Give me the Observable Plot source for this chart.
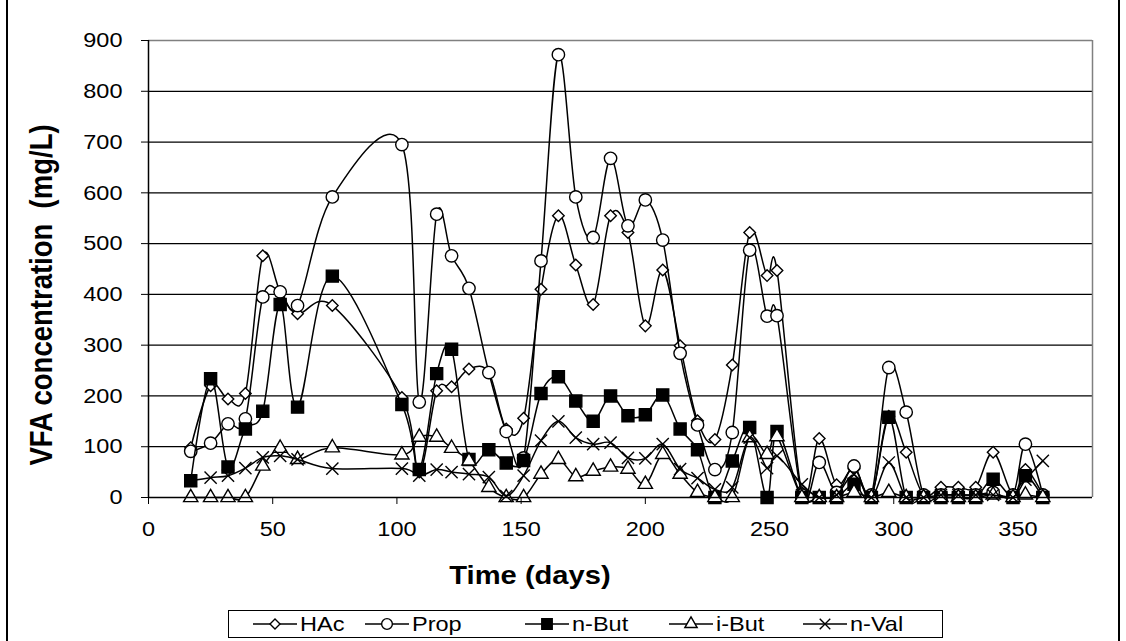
<!DOCTYPE html>
<html>
<head>
<meta charset="utf-8">
<script src="https://cdn.jsdelivr.net/npm/d3@7"></script>
<script src="https://cdn.jsdelivr.net/npm/@observablehq/plot@0.6"></script>
<style>
  html, body { margin: 0; padding: 0; background: #fff; }
  body { width: 1126px; height: 641px; position: relative; overflow: hidden; font-family: "Liberation Sans", Arial, sans-serif; }
  #frame { position: absolute; left: 6px; top: -4px; width: 1114px; height: 660px; border: 2px solid #000; box-sizing: border-box; pointer-events: none; }
  #chart { position: absolute; left: 0; top: 0; }
  #ytitle { position: absolute; left: 42px; top: 295px; white-space: pre; font-weight: bold; font-size: 27.5px; color: #000;
            transform: translate(-50%, -50%) rotate(-90deg) scale(1, 1.12); }
  #xtitle { position: absolute; left: 530px; top: 575px; white-space: pre; font-weight: bold; font-size: 26px; color: #000;
            transform: translate(-50%, -50%) scale(1.12, 1); }
  #legend { position: absolute; left: 228px; top: 610px; width: 715px; height: 28px; border: 1.5px solid #000; box-sizing: border-box; background: #fff; }
  .item { position: absolute; top: 0; height: 100%; display: flex; align-items: center; }
  .item span { font-size: 21px; display: inline-block; transform: scale(1.12, 1); transform-origin: left center; margin-left: 3px; }
</style>
</head>
<body>
<div id="chart"></div>
<div id="ytitle">VFA concentration  (mg/L)</div>
<div id="xtitle">Time (days)</div>
<div id="legend"></div>
<div id="frame"></div>
<script>
// ---- data ----
const days = [17, 25, 32, 39, 46, 53, 60, 74, 102, 109, 116, 122, 129, 137, 144, 151, 158, 165, 172, 179, 186, 193, 200, 207, 214, 221, 228, 235, 242, 249, 253, 263, 270, 277, 284, 291, 298, 305, 312, 319, 326, 333, 340, 348, 353, 360];
const hac  = [98, 220, 194, 205, 476, 405, 362, 378, 197, 50, 210, 218, 253, 246, 135, 156, 410, 555, 458, 380, 555, 522, 338, 448, 299, 151, 114, 261, 522, 437, 447, 10, 116, 25, 58, 5, 160, 89, 5, 20, 20, 20, 89, 5, 55, 5];
const prop = [91, 107, 145, 155, 395, 405, 378, 592, 695, 188, 558, 476, 412, 246, 130, 78, 466, 872, 592, 512, 668, 535, 586, 507, 284, 143, 55, 128, 487, 357, 358, 5, 69, 10, 62, 5, 256, 168, 5, 5, 5, 5, 10, 5, 105, 5];
const nbut = [33, 234, 60, 135, 170, 380, 178, 436, 183, 55, 244, 292, 75, 94, 68, 73, 205, 238, 190, 150, 200, 161, 163, 202, 135, 94, 0, 72, 138, 0, 130, 0, 0, 0, 26, 0, 158, 0, 0, 0, 0, 0, 36, 0, 43, 0];
const ibut = [0, 0, 0, 0, 62, 97, 75, 98, 84, 119, 119, 97, 72, 20, 0, 0, 46, 75, 41, 52, 60, 56, 26, 85, 46, 10, 0, 0, 118, 85, 120, 0, 0, 0, 10, 0, 10, 0, 0, 0, 0, 0, 5, 0, 5, 0];
const nval = [33, 39, 43, 58, 79, 82, 75, 57, 57, 43, 55, 50, 46, 40, 3, 43, 112, 150, 118, 105, 108, 78, 77, 105, 56, 38, 16, 20, 118, 58, 82, 26, 0, 5, 45, 0, 69, 0, 0, 5, 5, 5, 5, 0, 35, 72];
const seriesNames = ["HAc", "Prop", "n-But", "i-But", "n-Val"];
const xTicks = [0, 50, 100, 150, 200, 250, 300, 350];
const yTicks = [0, 100, 200, 300, 400, 500, 600, 700, 800, 900];

const seriesValues = [hac, prop, nbut, ibut, nval];
const symbolStyle = {
  "HAc":   {symbol: "diamond2", r: 5.2, fill: "white"},
  "Prop":  {symbol: "circle",   r: 6.2, fill: "white"},
  "n-But": {symbol: "square",   r: 6.8, fill: "black"},
  "i-But": {symbol: "triangle2",r: 6.8, fill: "white"},
  "n-Val": {symbol: "times",    r: 5.6, fill: "none"}
};
const d3Symbols = {diamond2: d3.symbolDiamond2, circle: d3.symbolCircle, square: d3.symbolSquare, triangle2: d3.symbolTriangle2, times: d3.symbolTimes};

const tables = seriesNames.map((name, k) => days.map((d, i) => ({day: d, value: seriesValues[k][i], series: name})));

const smooth = d3.curveCardinal.tension(0);
const marks = [
  Plot.ruleY(yTicks.filter(v => v > 0 && v < 900), {stroke: "#000", strokeWidth: 1.3}),
  Plot.ruleY([900], {stroke: "#808080", strokeWidth: 1.5}),
  Plot.ruleX([380], {stroke: "#808080", strokeWidth: 1.5})
];
seriesNames.forEach((name, k) => {
  const s = symbolStyle[name];
  marks.push(Plot.line(tables[k], {x: "day", y: "value", curve: smooth, stroke: "#000", strokeWidth: 1.5}));
  marks.push(Plot.dot(tables[k], {x: "day", y: "value", symbol: s.symbol, r: s.r, fill: s.fill, stroke: "#000", strokeWidth: 1.4}));
});
marks.push(
  Plot.ruleX([0], {stroke: "#000", strokeWidth: 1.5}),
  Plot.ruleY([0], {stroke: "#000", strokeWidth: 1.5}),
  Plot.axisX({ticks: xTicks, tickSize: 7, tickPadding: 17, fontSize: 21, label: null, stroke: "#000"}),
  Plot.axisY({ticks: yTicks, tickSize: 7, tickPadding: 19, fontSize: 21, label: null, stroke: "#000"})
);

const plot = Plot.plot({
  width: 1126,
  height: 600,
  marginLeft: 148,
  marginRight: 34,
  marginTop: 40,
  marginBottom: 103,
  x: {domain: [0, 380]},
  y: {domain: [0, 900]},
  style: {fontFamily: "'Liberation Sans', Arial, sans-serif", fontSize: "21px", color: "#000", background: "transparent"},
  marks
});
// widen tick labels slightly, as in the reference
plot.querySelectorAll('g[aria-label="x-axis tick label"] text, g[aria-label="y-axis tick label"] text').forEach(t => {
  const tr = t.getAttribute("transform");
  if (tr) t.setAttribute("transform", tr + " scale(1.12,1)");
});
document.getElementById("chart").appendChild(plot);

// legend
const legend = document.getElementById("legend");
const itemLeft = [24, 136, 296, 440, 574];
seriesNames.forEach((name, k) => {
  const s = symbolStyle[name];
  const div = document.createElement("div");
  div.className = "item";
  div.style.left = itemLeft[k] + "px";
  const svg = d3.create("svg").attr("width", 44).attr("height", 22);
  svg.append("line").attr("x1", 0).attr("x2", 44).attr("y1", 11).attr("y2", 11).attr("stroke", "#000").attr("stroke-width", 1.5);
  svg.append("path")
    .attr("transform", "translate(22,11)")
    .attr("d", d3.symbol(d3Symbols[s.symbol], Math.PI * s.r * s.r * 0.75)())
    .attr("fill", s.fill).attr("stroke", "#000").attr("stroke-width", 1.4);
  div.appendChild(svg.node());
  const span = document.createElement("span");
  span.textContent = name;
  div.appendChild(span);
  legend.appendChild(div);
});
</script>
</body>
</html>
